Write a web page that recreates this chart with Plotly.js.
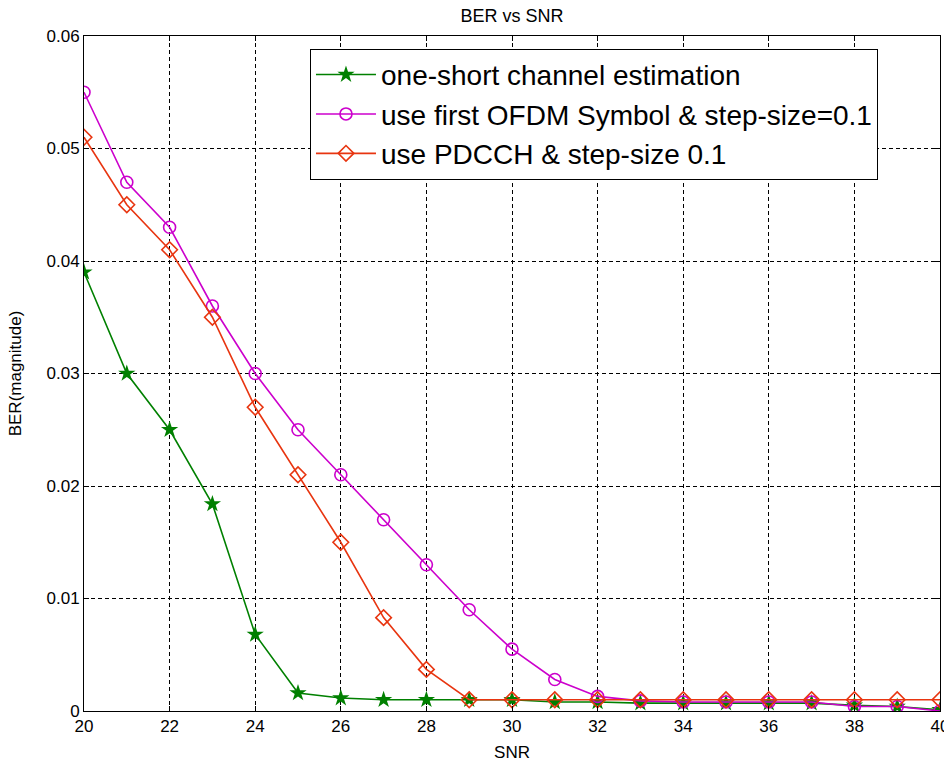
<!DOCTYPE html>
<html>
<head>
<meta charset="utf-8">
<script src="https://cdn.plot.ly/plotly-3.0.1.min.js"></script>
<style>html,body{margin:0;padding:0;background:#fff;}#chart{width:944px;height:763px;}</style>
</head>
<body>
<div id="chart"></div>
<script>
// ---- data ----
const snr = [20,21,22,23,24,25,26,27,28,29,30,31,32,33,34,35,36,37,38,39,40];
const berOneShot = [0.039,0.030,0.025,0.0184,0.0068,0.0016,0.00115,0.001,0.001,0.001,0.001,0.0008,0.0008,0.0007,0.0007,0.0007,0.0007,0.0007,0.0005,0.0004,0.0001];
const berFirstOfdm = [0.055,0.047,0.043,0.036,0.030,0.025,0.021,0.017,0.013,0.009,0.0055,0.0028,0.0013,0.0009,0.0008,0.0008,0.0008,0.0008,0.0004,0.0004,0.0];
const berPdcch = [0.051,0.045,0.041,0.035,0.027,0.021,0.015,0.0083,0.0037,0.001,0.001,0.001,0.001,0.001,0.001,0.001,0.001,0.001,0.001,0.001,0.001];
const seriesNames = ['one-short channel estimation','use first OFDM Symbol & step-size=0.1','use PDCCH & step-size 0.1'];
const xTicks = [20,22,24,26,28,30,32,34,36,38,40];
const yTicks = [0,0.01,0.02,0.03,0.04,0.05,0.06];
const yTickText = ['0','0.01','0.02','0.03','0.04','0.05','0.06'];

const FONT = '"Liberation Sans", Arial, Helvetica, sans-serif';

const traces = [
  {x: snr, y: berOneShot, name: seriesNames[0], legendgroup: 'a', mode: 'lines+markers',
   line: {color: '#008000', width: 1.6}, marker: {symbol: 'star', size: 13, color: '#008000'}},
  {x: snr, y: berFirstOfdm, name: seriesNames[1], legendgroup: 'b', mode: 'lines+markers',
   line: {color: '#cc00cc', width: 1.6}, marker: {symbol: 'circle-open', size: 12, color: '#cc00cc', line: {width: 1.6, color: '#cc00cc'}}},
  {x: snr, y: berPdcch, name: seriesNames[2], legendgroup: 'c', mode: 'lines+markers',
   line: {color: '#e83510', width: 1.6}, marker: {symbol: 'diamond-open', size: 12, color: '#e83510', line: {width: 1.6, color: '#e83510'}}}
];

const axisCommon = {
  showline: true, linecolor: '#000', linewidth: 1, mirror: 'ticks',
  ticks: 'inside', ticklen: 5, tickcolor: '#000', tickwidth: 1,
  showgrid: true, gridcolor: '#000', gridwidth: 1, griddash: '4px,3px',
  zeroline: false, automargin: false, ticklabeloverflow: 'allow',
  tickfont: {family: FONT, size: 17, color: '#000'}
};

const layout = {
  width: 944, height: 763,
  margin: {l: 84, r: 4, t: 36, b: 52},
  paper_bgcolor: '#fff', plot_bgcolor: '#fff',
  title: {text: 'BER vs SNR', font: {family: FONT, size: 18, color: '#000'}, x: 0.5425, xanchor: 'center', y: 0.98, yanchor: 'middle'},
  xaxis: Object.assign({}, axisCommon, {
    range: [20, 40], tickmode: 'array', tickvals: xTicks, ticktext: xTicks.map(String),
    title: {text: 'SNR', font: {family: FONT, size: 17, color: '#000'}, standoff: 10}
  }),
  yaxis: Object.assign({}, axisCommon, {
    range: [0, 0.06], tickmode: 'array', tickvals: yTicks, ticktext: yTickText,
    title: {text: 'BER(magnitude)', font: {family: FONT, size: 17, color: '#000'}, standoff: 20}
  }),
  showlegend: true,
  legend: {
    x: 0.264, y: 0.981, xanchor: 'left', yanchor: 'top',
    bgcolor: '#fff', bordercolor: '#000', borderwidth: 1,
    font: {family: FONT, size: 28, color: '#000'},
    tracegroupgap: 0, itemwidth: 60
  }
};

Plotly.newPlot('chart', traces, layout, {displayModeBar: false, staticPlot: true});
</script>
</body>
</html>
